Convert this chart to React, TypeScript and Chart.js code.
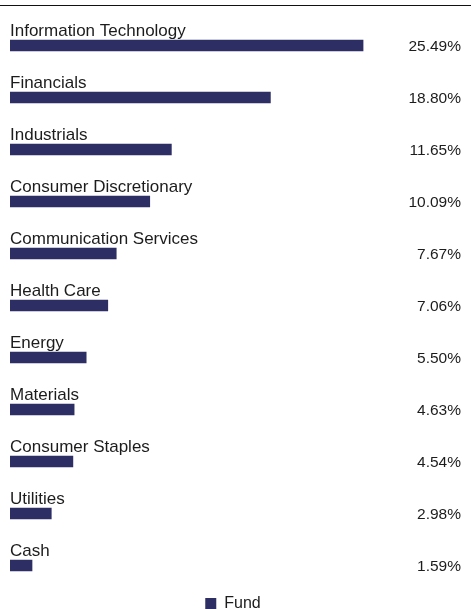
import React, { useEffect, useRef } from "react";
import { Chart, registerables } from "chart.js";

Chart.register(...registerables);

const categories: string[] = [
  "Information Technology",
  "Financials",
  "Industrials",
  "Consumer Discretionary",
  "Communication Services",
  "Health Care",
  "Energy",
  "Materials",
  "Consumer Staples",
  "Utilities",
  "Cash",
];

const fundValues: number[] = [25.49, 18.8, 11.65, 10.09, 7.67, 7.06, 5.5, 4.63, 4.54, 2.98, 1.59];

const valueLabels: string[] = fundValues.map((v) => v.toFixed(2) + "%");

const seriesName = "Fund";
const BAR_COLOR = "#2d2e63";
const TEXT_COLOR = "#1c1c1c";
const FONT = "'Liberation Sans', Arial, Helvetica, sans-serif";
const X_MAX = 32.2;

const labelPlugin = {
  id: "barLabels",
  beforeDraw(chart: any) {
    const ctx = chart.ctx;
    ctx.save();
    ctx.strokeStyle = "#111111";
    ctx.lineWidth = 1;
    ctx.beginPath();
    ctx.moveTo(0, 5.5);
    ctx.lineTo(chart.width, 5.5);
    ctx.stroke();
    ctx.restore();
  },
  afterDatasetsDraw(chart: any) {
    const ctx = chart.ctx;
    const meta = chart.getDatasetMeta(0);
    const left = chart.chartArea.left;
    ctx.save();
    ctx.fillStyle = TEXT_COLOR;
    meta.data.forEach((bar: any, i: number) => {
      const { y, height } = bar.getProps(["y", "height"], true);
      ctx.font = `17px ${FONT}`;
      ctx.textAlign = "left";
      ctx.textBaseline = "alphabetic";
      ctx.fillText(categories[i], left, y - height / 2 - 4);
      ctx.font = `15.5px ${FONT}`;
      ctx.textAlign = "right";
      ctx.fillText(valueLabels[i], chart.width - 10, y + height / 2);
    });
    ctx.restore();
  },
};

export default function App() {
  const canvasRef = useRef<HTMLCanvasElement | null>(null);

  useEffect(() => {
    if (!canvasRef.current) return;
    const chart = new Chart(canvasRef.current, {
      type: "bar",
      data: {
        labels: categories,
        datasets: [
          {
            label: seriesName,
            data: fundValues,
            backgroundColor: BAR_COLOR,
            borderWidth: 0,
            barThickness: 11,
          },
        ],
      },
      options: {
        indexAxis: "y",
        animation: false,
        responsive: true,
        maintainAspectRatio: false,
        layout: {
          padding: { left: 10, right: 15, top: 19.5, bottom: 8.5 },
        },
        scales: {
          x: { type: "linear", min: 0, max: X_MAX, display: false },
          y: { type: "category", display: false },
        },
        plugins: {
          tooltip: { enabled: false },
          legend: {
            display: true,
            position: "bottom",
            labels: {
              boxWidth: 11,
              boxHeight: 11,
              padding: 4,
              color: TEXT_COLOR,
              font: { family: FONT, size: 16 },
            },
          },
        },
      },
      plugins: [labelPlugin],
    } as any);
    return () => chart.destroy();
  }, []);

  return (
    <div
      style={{
        position: "fixed",
        left: 0,
        top: 0,
        width: 471,
        height: 609,
        overflow: "hidden",
        background: "#ffffff",
      }}
    >
      <div style={{ position: "relative", width: 471, height: 630 }}>
        <canvas ref={canvasRef} />
      </div>
    </div>
  );
}
